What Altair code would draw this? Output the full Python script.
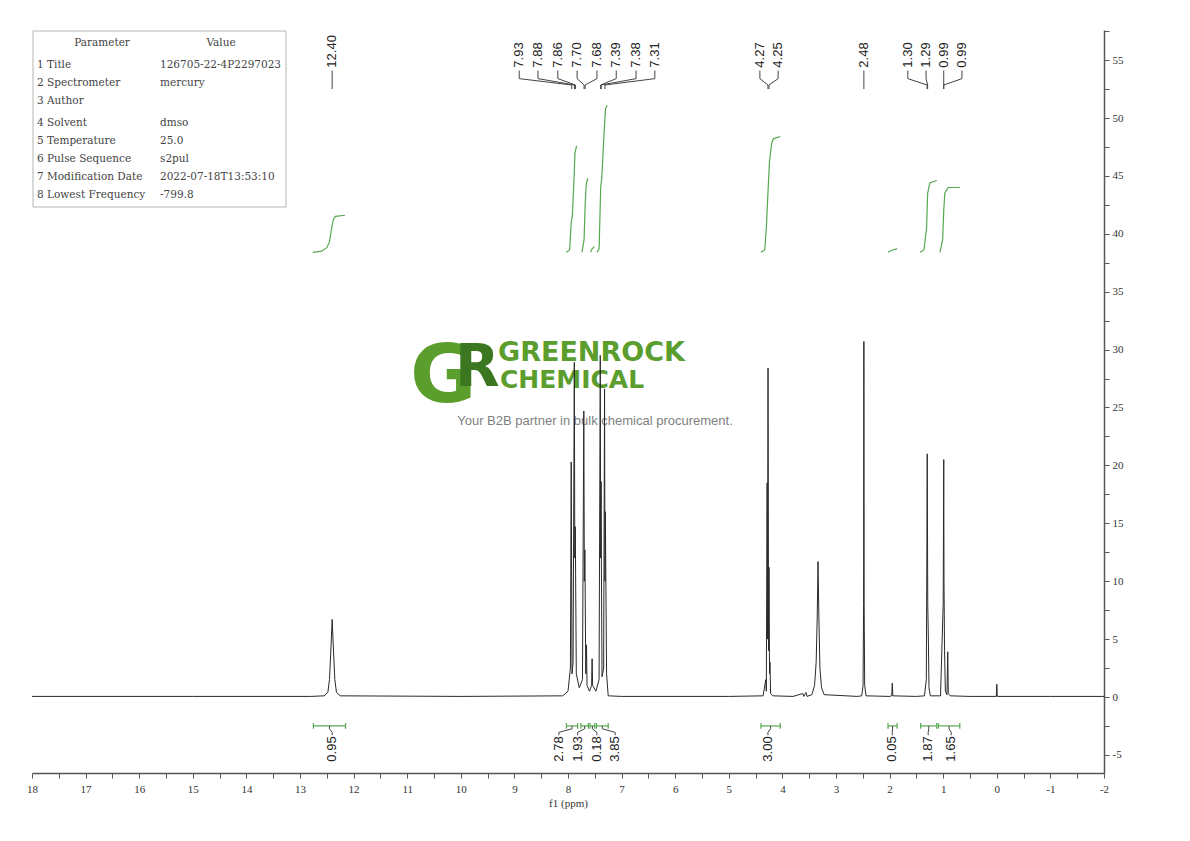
import altair as alt
import pandas as pd

# ---------------- values ----------------
# 1H spectrum trace: chemical shift (ppm) and intensity
trace_ppm = [18.0, 15.0, 12.8, 12.55, 12.48, 12.45, 12.42, 12.40, 12.38, 12.35, 12.32, 12.25,
             10.0, 8.10, 8.00, 7.955, 7.94, 7.925, 7.905, 7.882, 7.873, 7.864, 7.845, 7.79,
             7.73, 7.705, 7.695, 7.685, 7.668, 7.655, 7.645, 7.60, 7.56, 7.55, 7.54, 7.48,
             7.42, 7.398, 7.390, 7.383, 7.376, 7.365, 7.335, 7.318, 7.310, 7.303, 7.28, 7.25,
             7.0, 5.0, 4.36, 4.31, 4.30, 4.285, 4.278, 4.268, 4.258, 4.250, 4.240, 4.232,
             4.22, 4.18, 3.80, 3.62, 3.60, 3.56, 3.54, 3.45, 3.40, 3.37, 3.35, 3.335, 3.32,
             3.30, 3.27, 3.22, 2.60, 2.52, 2.495, 2.485, 2.480, 2.475, 2.465, 2.44, 2.00,
             1.96, 1.95, 1.94, 1.50, 1.35, 1.315, 1.305, 1.298, 1.288, 1.275, 1.265, 1.24,
             1.05, 1.00, 0.99, 0.985, 0.975, 0.96, 0.93, 0.915, 0.905, 0.87, 0.50, 0.01,
             0.0, -0.01, -1.0, -2.0]
trace_val = [0.05, 0.05, 0.05, 0.1, 0.4, 1.5, 4.5, 6.7, 4.5, 1.5, 0.4, 0.1,
             0.05, 0.1, 0.5, 2.5, 20.3, 2.0, 3.0, 28.9, 12.0, 14.7, 2.0, 0.8,
             1.5, 24.7, 10.0, 12.7, 2.0, 4.5, 1.0, 0.5, 1.0, 3.3, 1.0, 0.5,
             1.5, 29.5, 12.0, 18.6, 10.7, 1.75, 2.5, 26.6, 10.0, 16.0, 2.0, 0.1,
             0.05, 0.05, 0.1, 1.5, 0.5, 18.5, 5.0, 28.4, 4.0, 11.2, 2.0, 3.0,
             0.3, 0.1, 0.05, 0.3, 0.05, 0.4, 0.05, 0.2, 1.0, 3.0, 7.0, 11.7, 7.0,
             2.5, 0.8, 0.2, 0.05, 0.1, 1.0, 8.0, 30.7, 8.0, 1.0, 0.1, 0.05,
             0.1, 1.2, 0.1, 0.05, 0.1, 1.5, 12.0, 21.0, 8.0, 4.5, 0.8, 0.1,
             0.1, 8.0, 20.5, 10.0, 4.0, 0.5, 0.2, 3.9, 0.3, 0.1, 0.05, 0.05,
             1.1, 0.05, 0.05, 0.05]

# integral curves (green)
int_curve_ppm = [[12.76, 12.60, 12.50, 12.45, 12.42, 12.38, 12.34, 12.16],
                 [8.03, 7.97, 7.94, 7.92, 7.89, 7.87, 7.84],
                 [7.74, 7.70, 7.68, 7.66, 7.63],
                 [7.58, 7.55, 7.51],
                 [7.46, 7.42, 7.39, 7.37, 7.33, 7.30, 7.27],
                 [4.40, 4.33, 4.30, 4.27, 4.24, 4.20, 4.17, 4.04],
                 [2.03, 1.95, 1.86],
                 [1.43, 1.36, 1.31, 1.29, 1.25, 1.12],
                 [1.06, 1.01, 0.99, 0.97, 0.91, 0.69]]
int_curve_val = [[38.4, 38.5, 38.8, 39.3, 40.2, 41.2, 41.5, 41.6],
                 [38.4, 38.6, 41.0, 41.5, 44.5, 47.0, 47.6],
                 [38.4, 39.5, 42.5, 44.3, 44.8],
                 [38.4, 38.7, 38.9],
                 [38.4, 38.7, 44.0, 44.8, 48.5, 50.8, 51.1],
                 [38.4, 38.6, 40.5, 43.5, 46.3, 47.8, 48.2, 48.4],
                 [38.4, 38.6, 38.7],
                 [38.4, 38.6, 40.5, 43.5, 44.4, 44.6],
                 [38.4, 39.5, 42.0, 43.5, 44.0, 44.0]]

# integration ranges and values
int_from = [12.75, 8.03, 7.76, 7.59, 7.47, 4.40, 2.03, 1.42, 1.09]
int_to = [12.15, 7.82, 7.62, 7.50, 7.25, 4.04, 1.86, 1.12, 0.69]
int_labels = ["0.95", "2.78", "1.93", "0.18", "3.85", "3.00", "0.05", "1.87", "1.65"]
int_label_ppm = [12.40, 8.17, 7.82, 7.46, 7.12, 4.27, 1.95, 1.28, 0.85]

# peak picking labels
peak_ppm = [12.40, 7.93, 7.88, 7.86, 7.70, 7.68, 7.39, 7.38, 7.31, 4.27, 4.25, 2.48,
            1.30, 1.29, 0.99, 0.99]
peak_labels = ["12.40", "7.93", "7.88", "7.86", "7.70", "7.68", "7.39", "7.38", "7.31",
               "4.27", "4.25", "2.48", "1.30", "1.29", "0.99", "0.99"]
peak_label_ppm = [12.40, 8.91, 8.56, 8.19, 7.83, 7.46, 7.10, 6.73, 6.38, 4.42, 4.08, 2.48,
                  1.66, 1.32, 0.99, 0.65]

# parameter table
param_names = ["1 Title", "2 Spectrometer", "3 Author", "4 Solvent", "5 Temperature",
               "6 Pulse Sequence", "7 Modification Date", "8 Lowest Frequency"]
param_values = ["126705-22-4P2297023", "mercury", "", "dmso", "25.0", "s2pul",
                "2022-07-18T13:53:10", "-799.8"]

# tick values
x_ticks = [v / 2 for v in range(-4, 37)]
y_ticks = [v / 2 for v in range(-10, 116, 5)]

# ---------------- layout helpers (page pixels -> data) ----------------
def px2ppm(x):
    return 18 - (x - 32) / 53.6


def px2val(y):
    return (697 - y) / 11.58


XS = alt.Scale(domain=[-2, 18], reverse=True, nice=False, zero=False)
YS = alt.Scale(domain=[px2val(773), px2val(30)], nice=False, zero=False)

X_AXIS = alt.Axis(values=x_ticks, labelExpr="datum.value % 1 == 0 ? '' + datum.value : ''",
                  title="f1 (ppm)", labelOverlap=False, labelFlush=False, labelPadding=5,
                  titlePadding=3)
Y_AXIS = alt.Axis(orient="right", values=y_ticks, title=None,
                  labelExpr="datum.value % 5 == 0 ? '' + datum.value : ''",
                  labelOverlap=False, labelFlush=False, labelPadding=3)

GREEN = "#55a84f"
DARK = "#2a2a2a"


def X(field):
    return alt.X(field, type="quantitative", scale=XS, axis=X_AXIS)


def Y(field):
    return alt.Y(field, type="quantitative", scale=YS, axis=Y_AXIS)


# ---------------- dataframes ----------------
trace_df = pd.DataFrame({"ppm": trace_ppm, "val": trace_val})

int_rows = []
for i, (ps, vs) in enumerate(zip(int_curve_ppm, int_curve_val)):
    for j, (p, v) in enumerate(zip(ps, vs)):
        int_rows.append({"seg": i, "ord": j, "ppm": p, "val": v})
int_df = pd.DataFrame(int_rows)

BR_Y = -2.5
br_df = pd.DataFrame({"a": int_from, "b": int_to, "y": [BR_Y] * len(int_from)})
br_ends = pd.DataFrame({"ppm": int_from + int_to,
                        "lo": [BR_Y - 0.25] * (2 * len(int_from)),
                        "hi": [BR_Y + 0.25] * (2 * len(int_from))})

bl_rows = []
for i, (a, b, lp) in enumerate(zip(int_from, int_to, int_label_ppm)):
    c = (a + b) / 2
    for j, (p, v) in enumerate([(c, BR_Y), (c, -2.75), (lp, -3.05), (lp, -3.3)]):
        bl_rows.append({"seg": i, "ord": j, "ppm": p, "val": v})
bl_df = pd.DataFrame(bl_rows)
blab_df = pd.DataFrame({"ppm": int_label_ppm, "t": int_labels, "val": [-3.4] * len(int_labels)})

tl_rows = []
for i, (pk, lp) in enumerate(zip(peak_ppm, peak_label_ppm)):
    for j, (p, v) in enumerate([(lp, 54.1), (lp, 53.4), (pk, 52.85), (pk, 52.5)]):
        tl_rows.append({"seg": i, "ord": j, "ppm": p, "val": v})
tl_df = pd.DataFrame(tl_rows)
tlab_df = pd.DataFrame({"ppm": peak_label_ppm, "t": peak_labels, "val": [54.35] * len(peak_labels)})

# ---------------- layers ----------------
# parameter table
row_px = [65, 83, 101, 123, 141, 159, 177, 195]
table_box = alt.Chart(pd.DataFrame({"x": [px2ppm(33)], "x2": [px2ppm(286)],
                                    "y": [px2val(31)], "y2": [px2val(207)]})).mark_rect(
    fill="white", stroke="#b5b5b5", strokeWidth=1).encode(
    x=X("x"), x2="x2", y=Y("y"), y2="y2")

tab_rows = [{"t": "Parameter", "ppm": px2ppm(102), "val": px2val(43), "al": "center"},
            {"t": "Value", "ppm": px2ppm(221), "val": px2val(43), "al": "center"}]
for n, v, yp in zip(param_names, param_values, row_px):
    tab_rows.append({"t": n, "ppm": px2ppm(37), "val": px2val(yp), "al": "left"})
    tab_rows.append({"t": v, "ppm": px2ppm(160), "val": px2val(yp), "al": "left"})
tab_df = pd.DataFrame(tab_rows)
table_hdr = alt.Chart(tab_df[tab_df.al == "center"]).mark_text(
    font="DejaVu Serif", fontSize=10.5, color="#444", align="center", baseline="middle").encode(
    x=X("ppm"), y=Y("val"), text="t:N")
table_txt = alt.Chart(tab_df[tab_df.al == "left"]).mark_text(
    font="DejaVu Serif", fontSize=10.5, color="#444", align="left", baseline="middle").encode(
    x=X("ppm"), y=Y("val"), text="t:N")


# watermark
def wm(text, xp, yp, size, color, align="left", baseline="alphabetic", weight="bold", font="DejaVu Sans"):
    return alt.Chart(pd.DataFrame({"t": [text], "ppm": [px2ppm(xp)], "val": [px2val(yp)]})).mark_text(
        font=font, fontSize=size, fontWeight=weight, color=color, align=align, baseline=baseline).encode(
        x=X("ppm"), y=Y("val"), text="t:N")


wm_G = wm("G", 410, 402, 81, "#5c9e2e")
wm_R = wm("R", 455, 386, 58, "#3b7620")
wm_t1 = wm("GREENROCK", 498, 361, 27, "#5c9e2e")
wm_t2 = wm("CHEMICAL", 500, 388, 25, "#5c9e2e")
wm_tag = wm("Your B2B partner in bulk chemical procurement.", 595, 421, 13, "#808080",
            align="center", baseline="middle", weight="normal", font="Liberation Sans")

# spectrum
trace = alt.Chart(trace_df).mark_line(color=DARK, strokeWidth=1).encode(
    x=X("ppm"), y=Y("val"), order="ppm:Q")

integrals = alt.Chart(int_df).mark_line(color=GREEN, strokeWidth=1.2).encode(
    x=X("ppm"), y=Y("val"), detail="seg:N", order="ord:Q")

brackets = alt.Chart(br_df).mark_rule(color=GREEN, strokeWidth=1.2).encode(
    x=X("a"), x2="b", y=Y("y"))
bracket_ends = alt.Chart(br_ends).mark_rule(color=GREEN, strokeWidth=1.2).encode(
    x=X("ppm"), y=Y("lo"), y2="hi")
bottom_leaders = alt.Chart(bl_df).mark_line(color="#444", strokeWidth=1).encode(
    x=X("ppm"), y=Y("val"), detail="seg:N", order="ord:Q")
bottom_labels = alt.Chart(blab_df).mark_text(
    font="Liberation Sans", fontSize=13, color="#222", angle=270, align="right", baseline="middle").encode(
    x=X("ppm"), y=Y("val"), text="t:N")

top_leaders = alt.Chart(tl_df).mark_line(color="#444", strokeWidth=1).encode(
    x=X("ppm"), y=Y("val"), detail="seg:N", order="ord:Q")
top_labels = alt.Chart(tlab_df).mark_text(
    font="Liberation Sans", fontSize=13, color="#222", angle=270, align="left", baseline="middle").encode(
    x=X("ppm"), y=Y("val"), text="t:N")

chart = alt.layer(
    wm_G, wm_R, wm_t1, wm_t2, wm_tag,
    trace, integrals, brackets, bracket_ends, bottom_leaders, bottom_labels,
    top_leaders, top_labels,
    table_box, table_hdr, table_txt,
).properties(
    width=1072, height=743,
    autosize=alt.AutoSizeParams(type="none"),
    padding={"left": 24, "top": 22, "right": 70, "bottom": 50},
).configure_view(strokeWidth=0).configure_axis(
    grid=False,
    labelFont="Liberation Serif", labelFontSize=11, labelColor="#333",
    domainColor="#555", domainWidth=1.5, tickColor="#555", tickWidth=1, tickSize=5,
    titleFont="Liberation Serif", titleFontSize=11, titleFontWeight="normal", titleColor="#333",
)

chart.save("out.html", embed_options={"renderer": "svg", "actions": False})
